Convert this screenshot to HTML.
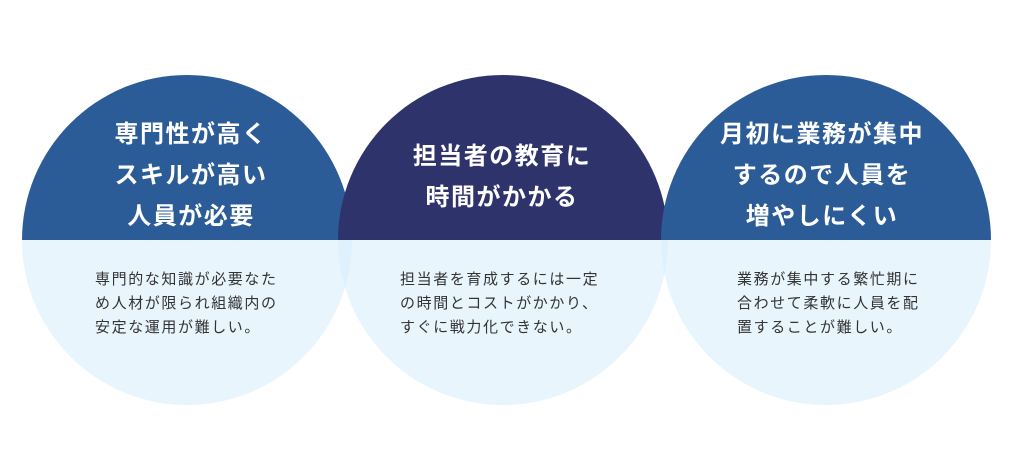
<!DOCTYPE html>
<html><head><meta charset="utf-8"><style>
html,body{margin:0;padding:0;background:#fff;width:1024px;height:464px;overflow:hidden}
svg text{font-family:"Liberation Sans","Noto Sans CJK JP",sans-serif}
.t{fill:#fff;font-weight:bold;font-size:24px;letter-spacing:1.5px;text-anchor:middle}
.b{fill:#333;font-size:15px;letter-spacing:1.6px}
</style></head><body>
<svg width="1024" height="464" viewBox="0 0 1024 464" xmlns="http://www.w3.org/2000/svg">
<defs>
<clipPath id="top"><rect x="0" y="0" width="1024" height="240"/></clipPath>
<clipPath id="bot"><rect x="0" y="240" width="1024" height="224"/></clipPath>
</defs>
<g clip-path="url(#bot)">
<circle cx="187" cy="240" r="165" fill="#d6ecfb" fill-opacity="0.55"/>
<circle cx="503" cy="240" r="165" fill="#d6ecfb" fill-opacity="0.55"/>
<circle cx="826" cy="240" r="165" fill="#d6ecfb" fill-opacity="0.55"/>
</g>
<g clip-path="url(#top)">
<circle cx="187" cy="240" r="165" fill="#2c5c97"/>
<circle cx="503" cy="240" r="165" fill="#2f336b"/>
<circle cx="826" cy="240" r="165" fill="#2c5c97"/>
</g>
<text class="t" x="191" y="142">専門性が高く</text>
<text class="t" x="191" y="183">スキルが高い</text>
<text class="t" x="191" y="224">人員が必要</text>
<text class="t" x="502" y="164">担当者の教育に</text>
<text class="t" x="502" y="205">時間がかかる</text>
<text class="t" x="822" y="142">月初に業務が集中</text>
<text class="t" x="822" y="183">するので人員を</text>
<text class="t" x="822" y="224">増やしにくい</text>
<text class="b" x="95" y="284">専門的な知識が必要なた</text>
<text class="b" x="95" y="308">め人材が限られ組織内の</text>
<text class="b" x="95" y="332">安定な運用が難しい。</text>
<text class="b" x="400" y="284">担当者を育成するには一定</text>
<text class="b" x="400" y="308">の時間とコストがかかり、</text>
<text class="b" x="400" y="332">すぐに戦力化できない。</text>
<text class="b" x="737" y="284">業務が集中する繁忙期に</text>
<text class="b" x="737" y="308">合わせて柔軟に人員を配</text>
<text class="b" x="737" y="332">置することが難しい。</text>
</svg>
</body></html>
